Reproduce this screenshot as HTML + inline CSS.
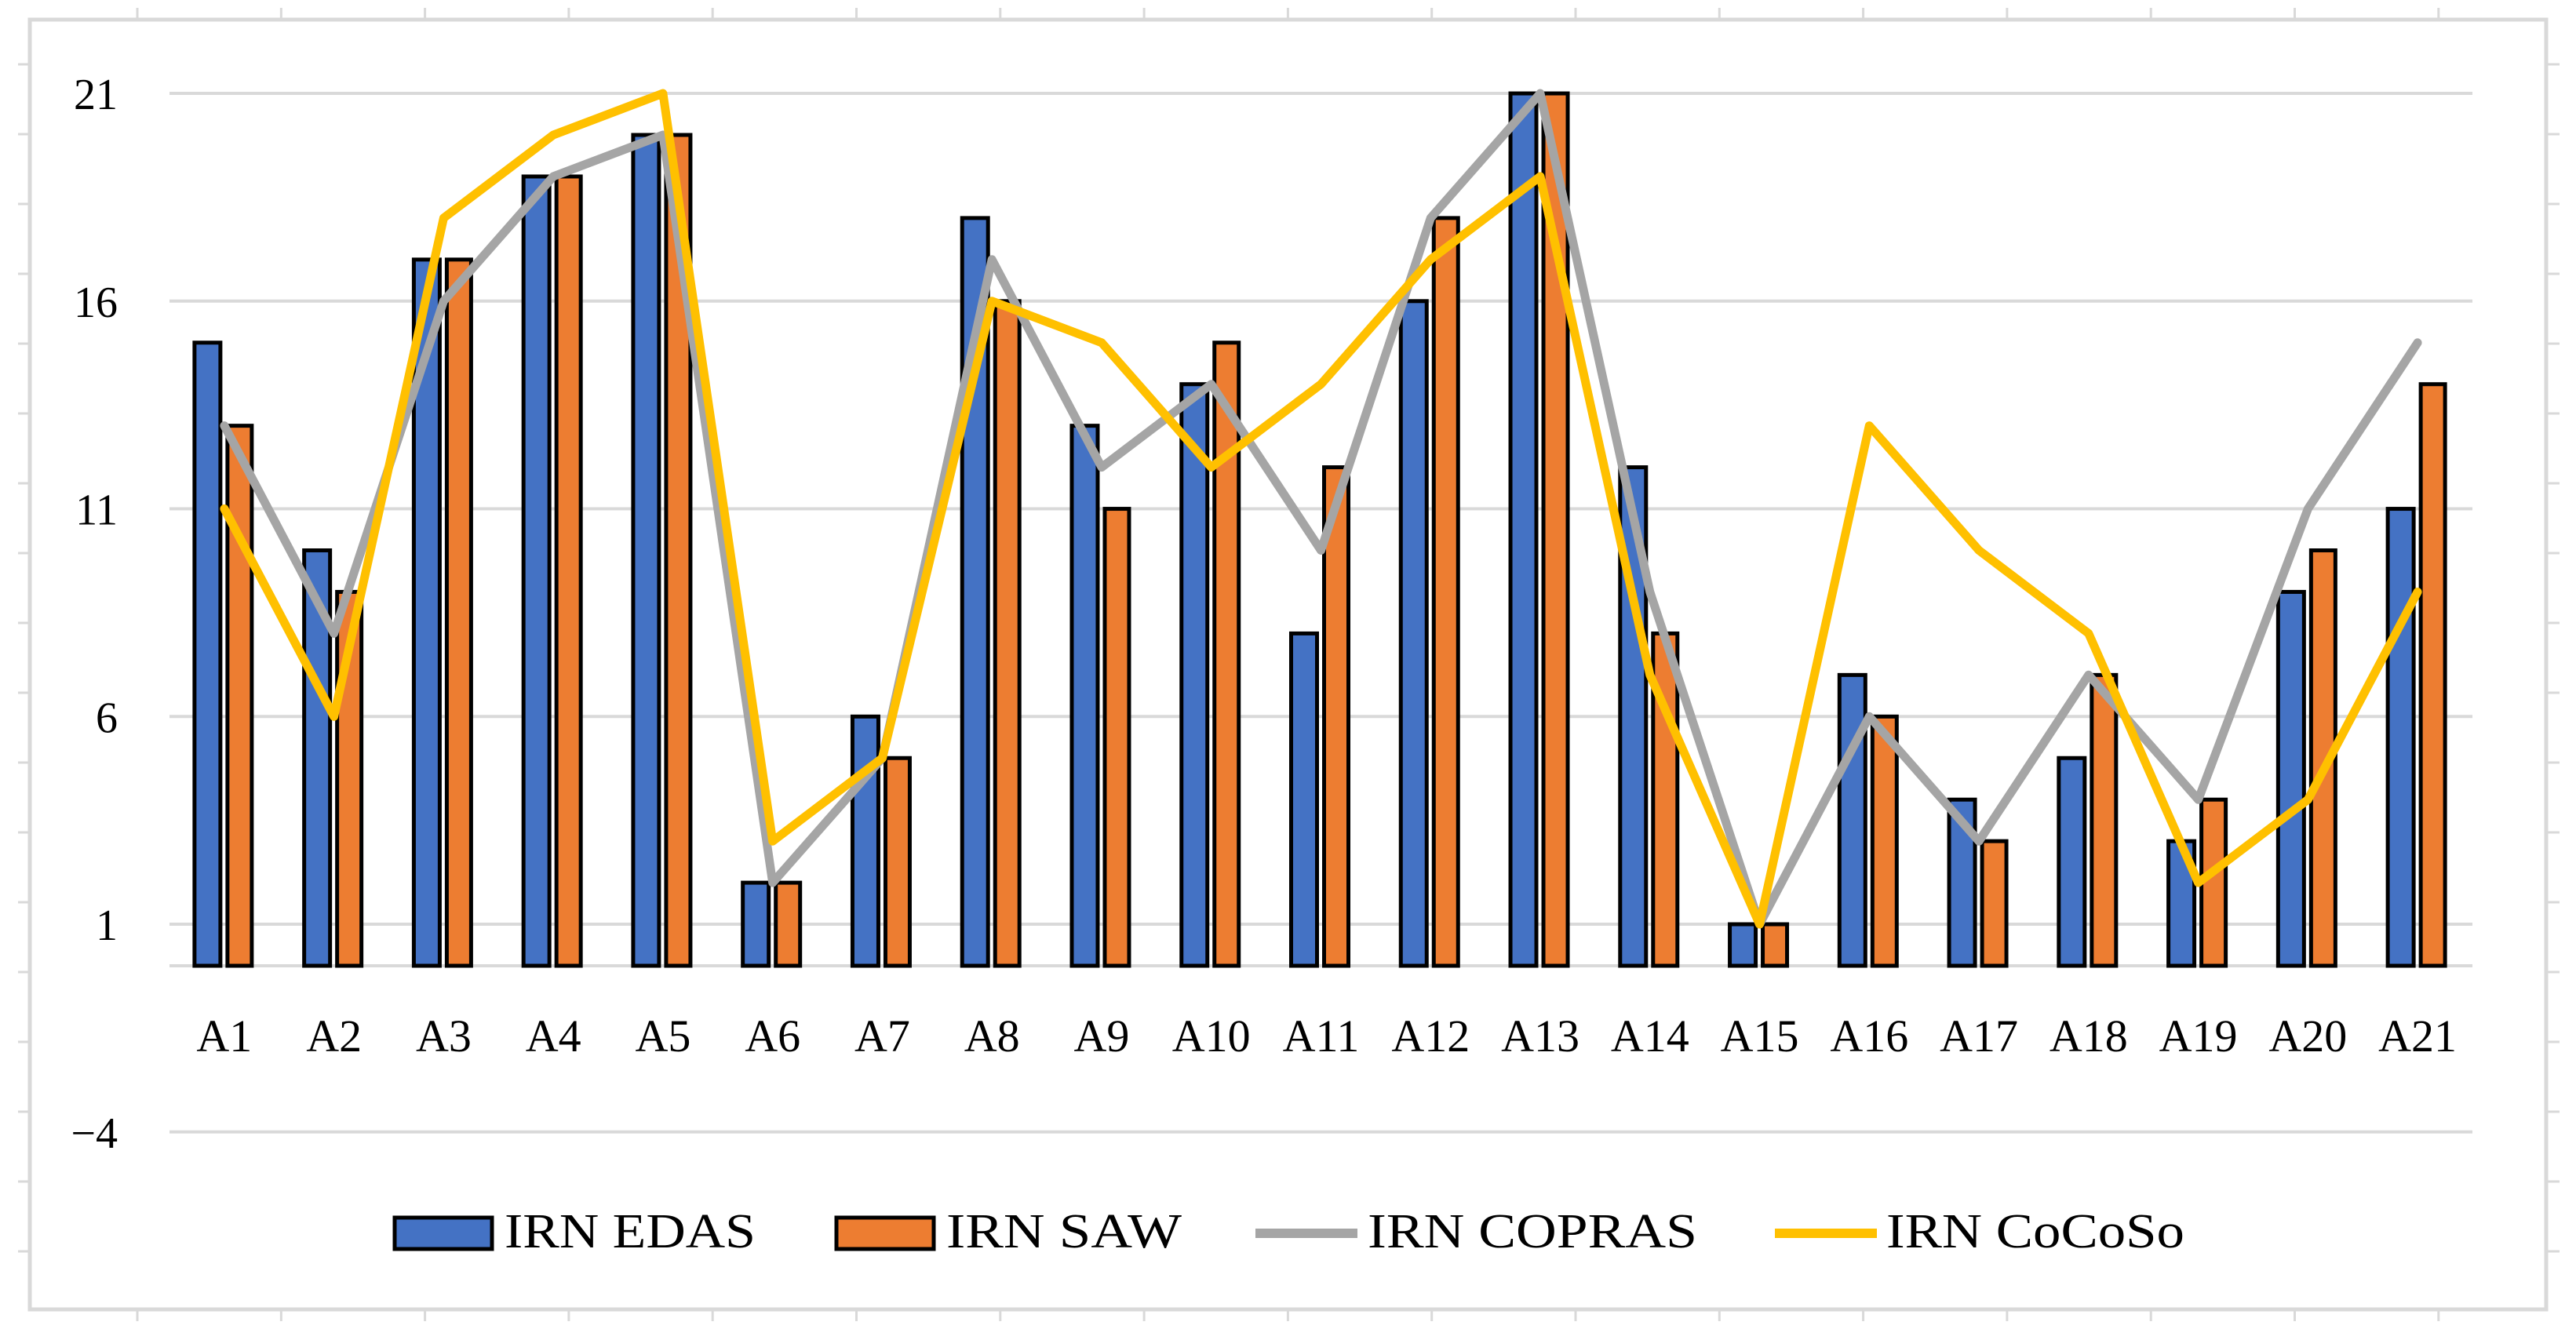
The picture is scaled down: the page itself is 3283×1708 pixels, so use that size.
<!DOCTYPE html>
<html><head><meta charset="utf-8"><style>
html,body{margin:0;padding:0;background:#fff;}
svg{display:block;font-family:"Liberation Serif",serif;}
</style></head><body>
<svg id="chart" width="3283" height="1708" viewBox="0 0 3283 1708" xmlns="http://www.w3.org/2000/svg">
<rect x="38" y="25" width="3207" height="1644" fill="#fff" stroke="#d9d9d9" stroke-width="5"/>
<g id="outer-ticks"></g>
<g id="grid"></g>
<g id="yaxis"></g>
<g id="bars"></g>
<g id="lines"></g>
<g id="xaxis"></g>
<g font-size="62">
  <g>
    <rect x="503" y="1552" width="124" height="40" fill="#4472c4" stroke="#000" stroke-width="5"/>
    <text x="643" y="1590" textLength="320" lengthAdjust="spacingAndGlyphs">IRN EDAS</text>
  </g>
  <g>
    <rect x="1066" y="1552" width="124" height="40" fill="#ed7d31" stroke="#000" stroke-width="5"/>
    <text x="1206" y="1590" textLength="300" lengthAdjust="spacingAndGlyphs">IRN SAW</text>
  </g>
  <g>
    <line x1="1600" y1="1572" x2="1730" y2="1572" stroke="#a5a5a5" stroke-width="12"/>
    <text x="1743" y="1590" textLength="420" lengthAdjust="spacingAndGlyphs">IRN COPRAS</text>
  </g>
  <g>
    <line x1="2262" y1="1572" x2="2392" y2="1572" stroke="#ffc000" stroke-width="12"/>
    <text x="2404" y="1590" textLength="380" lengthAdjust="spacingAndGlyphs">IRN CoCoSo</text>
  </g>
</g>
</svg>
<script>
const categories = ["A1","A2","A3","A4","A5","A6","A7","A8","A9","A10","A11","A12","A13","A14","A15","A16","A17","A18","A19","A20","A21"];
const edas   = [15,10,17,19,20,2,6,18,13,14,8,16,21,12,1,7,4,5,3,9,11];
const saw    = [13,9,17,19,20,2,5,16,11,15,12,18,21,8,1,6,3,7,4,10,14];
const copras = [13,8,16,19,20,2,5,17,12,14,10,18,21,9,1,6,3,7,4,11,15];
const cocoso = [11,6,18,20,21,3,5,16,15,12,14,17,19,7,1,13,10,8,2,4,9];
const yTicks = [-4,1,6,11,16,21];

const NS = "http://www.w3.org/2000/svg";
const L = 216, R = 3151, Y0 = 1231, UNIT = 52.95;
const bw = (R - L) / categories.length;
function xc(i){ return L + bw * (i + 0.5); }
function y(v){ return Y0 - v * UNIT; }
function mk(tag, attrs, parent){
  const e = document.createElementNS(NS, tag);
  for (const k in attrs) e.setAttribute(k, attrs[k]);
  parent.appendChild(e); return e;
}
const grid = document.getElementById('grid');
const yaxis = document.getElementById('yaxis');
yTicks.forEach(t => {
  const g = mk('line', {x1:L, x2:R, y1:y(t), y2:y(t), stroke:'#d9d9d9', 'stroke-width':4}, grid);
  
  
  const tx = mk('text', {x:150, y:y(t)+20, 'text-anchor':'end', 'font-size':56}, yaxis);
  tx.textContent = t < 0 ? '\u2212' + Math.abs(t) : String(t);
  
  
});
const ax = mk('line', {x1:L, x2:R, y1:y(0), y2:y(0), stroke:'#d9d9d9', 'stroke-width':4}, grid);



const bars = document.getElementById('bars');
const xaxis = document.getElementById('xaxis');
categories.forEach((c, i) => {
  const cx = xc(i);
  const b1 = mk('rect', {x:cx-38, y:y(edas[i]), width:33, height:y(0)-y(edas[i]), fill:'#4472c4', stroke:'#000', 'stroke-width':5}, bars);
  
  
  const b2 = mk('rect', {x:cx+4, y:y(saw[i]), width:31, height:y(0)-y(saw[i]), fill:'#ed7d31', stroke:'#000', 'stroke-width':5}, bars);
  
  
  const t = mk('text', {x:cx, y:1340, 'text-anchor':'middle', 'font-size':58}, xaxis);
  t.textContent = c;
  
  
});
const lines = document.getElementById('lines');
function series(vals, color, name){
  const pts = vals.map((v,i) => xc(i).toFixed(1) + ',' + y(v).toFixed(1)).join(' ');
  const p = mk('polyline', {points:pts, fill:'none', stroke:color, 'stroke-width':11, 'stroke-linejoin':'round', 'stroke-linecap':'round'}, lines);
  
  
}
series(copras, '#a5a5a5', 'line-copras');
series(cocoso, '#ffc000', 'line-cocoso');

const ot = document.getElementById('outer-ticks');
for (let x = 175; x < 3245; x += 183.3) {
  mk('line', {x1:x, x2:x, y1:10, y2:25, stroke:'#d9d9d9', 'stroke-width':3}, ot);
  mk('line', {x1:x, x2:x, y1:1669, y2:1684, stroke:'#d9d9d9', 'stroke-width':3}, ot);
}
for (let yy = 82; yy < 1669; yy += 89) {
  mk('line', {x1:23, x2:38, y1:yy, y2:yy, stroke:'#d9d9d9', 'stroke-width':3}, ot);
  mk('line', {x1:3245, x2:3262, y1:yy, y2:yy, stroke:'#d9d9d9', 'stroke-width':3}, ot);
}
</script>
</body></html>
